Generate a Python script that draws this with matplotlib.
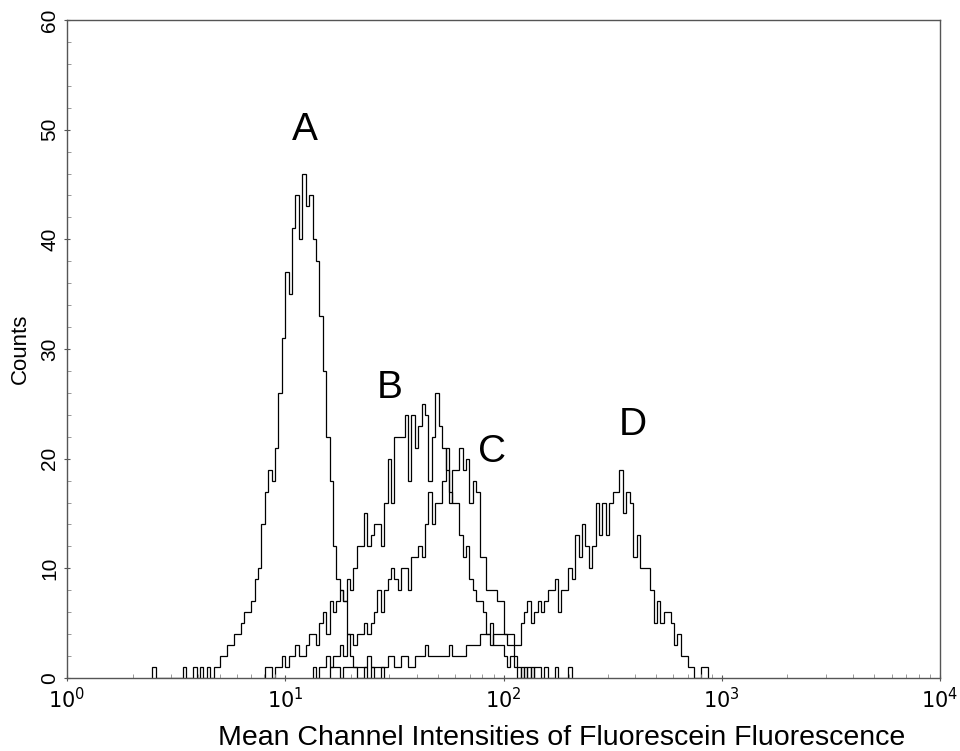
import matplotlib.pyplot as plt
import numpy as np

plt.rcParams['font.family'] = ['Liberation Sans', 'DejaVu Sans']

# 256 channels over 4 log decades (64 channels per decade)
CH_PER_DECADE = 64

# counts per channel, each curve starts at the given channel
a_start = 25
a_counts = [1, 0, 0, 0, 0, 0, 0, 0, 0, 1, 0, 0, 1, 0, 1, 0, 1, 0, 1, 1,
            2, 2, 3, 3, 4, 4, 5, 6, 6, 7, 9, 10, 14, 17, 19, 18, 21, 26, 31, 37,
            35, 41, 44, 40, 46, 43, 44, 40, 38, 33, 28, 22, 18, 12, 9, 8, 7, 4, 2, 1,
            0, 0, 1, 0, 1, 0, 0, 1]

b_start = 58
b_counts = [1, 1, 0, 1, 1, 2, 1, 2, 2, 3, 2, 2, 3, 4, 4, 3, 5, 6, 4, 7,
            6, 7, 8, 7, 9, 8, 10, 12, 12, 15, 12, 13, 14, 14, 12, 16, 20, 16, 22, 22,
            22, 24, 18, 24, 21, 23, 25, 24, 18, 22, 26, 23, 21, 19, 17, 16, 16, 13, 11, 12,
            9, 8, 7, 7, 6, 4, 5, 3, 3, 3, 2, 1, 2, 1, 0, 1, 0, 1, 0, 1,
            1, 0, 1, 0, 0, 1, 0, 0, 0, 1]

c_start = 72
c_counts = [1, 0, 1, 1, 2, 1, 2, 2, 3, 2, 4, 4, 3, 4, 4, 5, 4, 5, 6, 8,
            6, 8, 9, 10, 9, 8, 10, 10, 8, 11, 11, 12, 11, 14, 17, 14, 16, 16, 18, 21,
            16, 19, 19, 21, 19, 20, 16, 18, 17, 11, 11, 8, 8, 8, 7, 7, 4, 3, 3, 2,
            1, 0, 1, 0, 1]

d_start = 77
d_counts = [1, 1, 1, 0, 1, 1, 1, 1, 1, 1, 1, 2, 1, 1, 1, 1, 1, 2, 2, 1,
            1, 2, 2, 1, 1, 2, 2, 2, 3, 2, 2, 2, 2, 2, 2, 3, 2, 2, 2, 2,
            3, 3, 3, 3, 4, 4, 4, 3, 4, 4, 4, 4, 4, 4, 3, 3, 5, 6, 7, 5,
            6, 7, 6, 7, 8, 8, 9, 6, 8, 8, 10, 9, 13, 11, 14, 12, 10, 12, 16, 13,
            16, 13, 16, 17, 17, 19, 15, 17, 16, 11, 13, 10, 10, 10, 8, 5, 7, 5, 6, 6,
            5, 3, 4, 2, 2, 1, 1, 0, 0, 1, 1]

curves = [(a_start, a_counts), (b_start, b_counts), (c_start, c_counts), (d_start, d_counts)]

labels = ['A', 'B', 'C', 'D']
label_x = [12.3, 30.2, 88.6, 392]
label_y = [50, 26.4, 20.6, 23.1]

fig = plt.figure(figsize=(9.6, 7.51), dpi=100)
ax = fig.add_axes([0.0698, 0.0972, 0.9094, 0.8762])

for start, counts in curves:
    edges = 10 ** (np.arange(start, start + len(counts) + 1) / CH_PER_DECADE)
    ax.stairs(counts, edges, baseline=0, color='black', linewidth=0.9)

for lab, lx, ly in zip(labels, label_x, label_y):
    ax.text(lx, ly, lab, fontsize=28, ha='center', va='center')

ax.set_xscale('log')
ax.set_xlim(1, 1e4)
ax.set_ylim(0, 60)
ax.set_yticks(np.arange(0, 61, 10))
ax.set_yticks(np.arange(0, 61, 2), minor=True)
ax.set_xticks([1, 10, 100, 1000, 10000])
ax.set_xticklabels([r'$10^0$', r'$10^1$', r'$10^2$', r'$10^3$', r'$10^4$'])

for s in ax.spines.values():
    s.set_color('#555555')
    s.set_linewidth(1.0)

ax.tick_params(axis='both', which='major', direction='inout', length=5,
               color='#555555', labelsize=15)
ax.tick_params(axis='both', which='minor', direction='in', length=3, color='#888888')
ax.tick_params(axis='x', pad=4)
ax.tick_params(axis='y', pad=3)
for t in ax.get_yticklabels():
    t.set_rotation(90)
    t.set_va('center')

ax.set_ylabel('Counts', fontsize=16)
ax.yaxis.set_label_coords(-0.041, 0.5)
ax.set_xlabel('Mean Channel Intensities of Fluorescein Fluorescence', fontsize=20.5)
ax.xaxis.set_label_coords(0.566, -0.071)

fig.savefig('out.png', dpi=100)
